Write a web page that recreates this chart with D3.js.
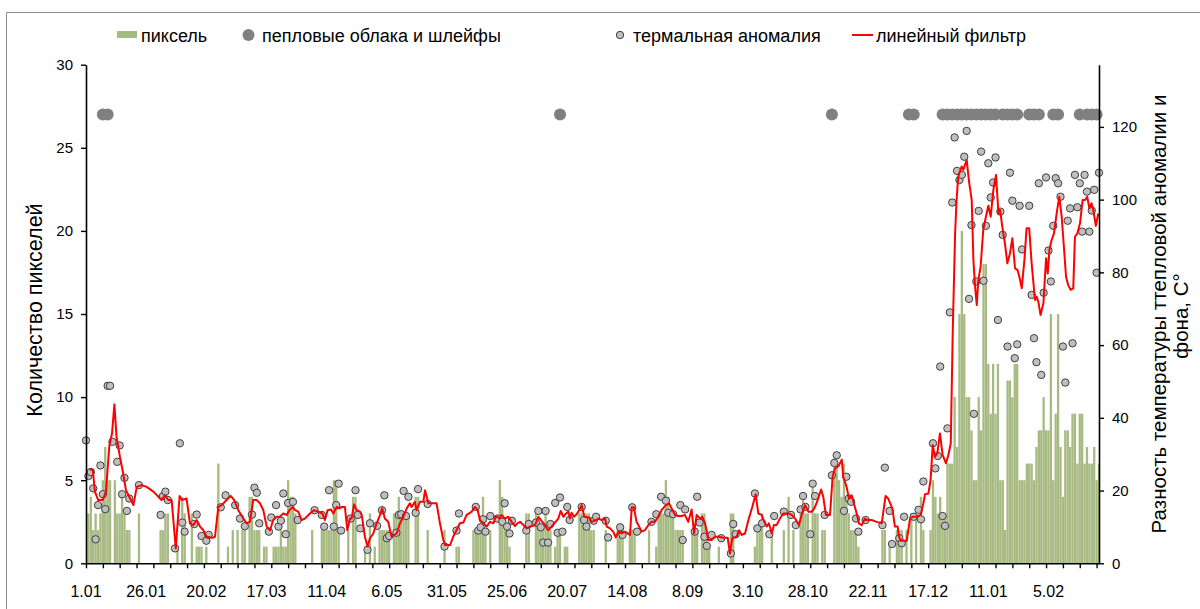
<!DOCTYPE html>
<html>
<head>
<meta charset="utf-8">
<script src="https://cdn.jsdelivr.net/npm/d3@7"></script>
<style>
  body { margin: 0; background: #fff; }
  svg { display: block; }
  text { font-family: "Liberation Sans", Arial, sans-serif; fill: #000; }
</style>
</head>
<body>
<svg width="1200" height="609"></svg>
<script>
// x axis: one category per day, labels every 25 days, tick marks every 7
const dateLabels = ["1.01", "26.01", "20.02", "17.03", "11.04", "6.05", "31.05", "25.06",
  "20.07", "14.08", "8.09", "3.10", "28.10", "22.11", "17.12", "11.01", "5.02"];
const nDays = 422;
const labelStep = 25;
const tickStep = 7;

// number of pixels per day [day, count] (days with zero left out)
const pixels = [
  [0,3],[1,3],[2,4],[3,2],[4,3],[5,2],[6,3],[7,5],[8,7],[9,5],[10,5],[12,5],[13,3],[14,3],
  [15,4],[16,3],[17,2],[18,2],[22,3],[31,2],[32,2],[33,3],[34,3],[38,1],[40,4],[41,3],[44,3],
  [46,1],[47,1],[48,1],[50,1],[55,6],[59,1],[61,2],[63,2],[65,2],[66,2],[68,4],[69,4],[70,2],
  [71,2],[72,2],[74,1],[75,1],[78,1],[79,1],[80,1],[81,2],[82,1],[83,1],[84,5],[85,4],[86,4],
  [87,3],[94,2],[98,2],[99,2],[100,2],[101,2],[102,2],[103,5],[104,5],[105,2],[109,2],[111,4],
  [112,4],[116,1],[118,3],[120,1],[122,2],[123,2],[124,2],[125,2],[126,2],[128,3],[129,3],
  [130,4],[131,3],[132,3],[133,3],[134,3],[137,4],[138,4],[142,2],[149,2],[154,1],[155,1],
  [161,2],[162,2],[163,2],[164,2],[165,4],[166,2],[168,2],[172,5],[173,4],[174,2],[175,2],
  [176,1],[183,3],[184,3],[187,3],[188,2],[189,2],[190,2],[191,3],[192,2],[193,2],[195,1],
  [196,2],[197,2],[199,1],[200,1],[205,3],[206,3],[207,3],[208,3],[209,3],[210,2],[211,2],
  [216,2],[221,2],[222,2],[223,2],[226,2],[227,2],[228,2],[234,2],[237,1],[238,3],[239,3],
  [240,3],[241,5],[242,4],[243,3],[244,3],[245,2],[246,2],[247,2],[248,2],[252,2],[253,2],
  [254,2],[256,3],[257,3],[258,2],[259,1],[263,1],[268,3],[269,3],[278,1],[279,2],[280,2],
  [281,3],[285,2],[290,2],[292,4],[294,2],[297,3],[298,4],[299,3],[300,3],[302,5],[303,3],
  [304,3],[306,2],[307,2],[311,6],[312,6],[313,5],[314,4],[315,6],[316,4],[317,3],[318,2],
  [319,2],[320,2],[321,1],[331,2],[332,2],[334,1],[337,2],[338,2],[339,2],[341,2],[343,3],
  [345,3],[347,4],[348,2],[351,2],[352,5],[353,4],[354,3],[355,4],[356,3],[357,3],[358,6],
  [359,6],[360,6],[361,10],[362,7],[363,15],[364,20],[365,15],[366,10],[367,10],[368,8],
  [369,5],[370,5],[371,10],[372,8],[373,18],[374,18],[375,12],[376,9],[377,12],[378,9],
  [379,12],[380,5],[381,5],[382,2],[383,11],[384,11],[385,10],[386,12],[387,12],[388,5],
  [389,5],[390,5],[391,6],[392,6],[393,6],[394,5],[395,7],[396,8],[397,8],[398,10],[399,8],
  [400,8],[401,15],[402,5],[403,9],[404,15],[405,7],[406,4],[407,8],[408,8],[409,7],[410,9],
  [411,9],[412,6],[413,9],[414,9],[415,6],[416,7],[417,6],[418,6],[419,7],[420,5],[421,6]
];

// days with ash clouds and plumes, drawn at level 27 of the left axis
const ashDays = [7, 9, 197, 310, 342, 344, 356, 358, 360, 362, 364, 366, 368, 370, 372, 374,
  376, 378, 381, 383, 385, 387, 392, 394, 396, 402, 404, 413, 416, 418, 420];
const ashLevel = 27;

// thermal anomaly, temperature difference in C [day, value] (right axis)
const anomaly = [
  [0,33.8],[1,24],[2,25.1],[3,20.6],[4,6.6],[5,16],[6,26.9],[7,19],[8,14.9],[9,48.8],[10,48.8],
  [11,33.4],[13,27.9],[14,32.4],[15,19],[16,23.5],[17,14.4],[18,17.8],[22,21.5],[31,13.3],
  [32,18.5],[33,19.7],[34,17.4],[37,4.1],[39,33],[40,11.2],[41,8.7],[45,10.8],[46,13.4],
  [48,7.5],[50,6.2],[51,7.8],[56,15.4],[58,18.7],[62,16],[64,12.3],[66,10.2],[69,13.4],
  [70,20.8],[71,19.4],[72,11],[76,8.7],[77,12.6],[79,16],[80,10.1],[81,11.7],[82,19.2],[83,8],
  [84,16.6],[86,16.9],[88,11.9],[95,14.6],[98,13.3],[99,10.1],[101,20.1],[103,10.1],[104,16],
  [105,21.9],[106,9],[110,12.3],[112,20.1],[113,13.3],[114,9.6],[117,3.7],[118,11],[121,10.3],
  [123,14.6],[124,18.7],[125,6.9],[126,7.5],[129,8.4],[130,13.3],[131,13.5],[132,19.9],[133,13],
  [134,18.3],[137,13.9],[138,20.4],[142,16.3],[149,4.6],[154,9],[155,13.7],[162,15.5],[163,9],
  [164,9.9],[165,12.1],[166,8.7],[168,13],[171,12.3],[173,11.4],[174,16.5],[175,10.1],[176,8.2],
  [177,11.7],[183,9],[184,10.8],[187,11.2],[188,14.4],[189,9.9],[190,5.7],[191,14.4],[192,5.7],
  [193,10.8],[195,16.6],[196,8.4],[197,18.1],[198,8.7],[200,15.5],[201,11.9],[206,15.5],
  [207,11.9],[208,10.1],[211,11.7],[212,12.8],[216,11.7],[217,7.1],[222,9.9],[223,7.8],
  [227,15.4],[229,8.7],[235,11.4],[237,13.5],[239,18.3],[241,17.2],[242,13.9],[244,13.5],
  [247,16],[248,6.4],[249,14.8],[253,8.7],[254,18.3],[255,11.2],[257,7.3],[258,4.8],[260,7.8],
  [264,6.9],[268,2.7],[269,10.8],[270,8],[278,19.2],[279,9.6],[281,11],[284,8],[286,13],
  [290,14.2],[293,13.3],[295,10.5],[297,14.8],[298,18.5],[299,15.5],[301,8],[302,21.9],
  [303,18.5],[307,13.3],[310,24.2],[311,27.6],[312,29.7],[315,14.4],[316,23.8],[317,17.8],
  [318,16.9],[320,12.3],[321,8.7],[324,11.9],[331,10.5],[332,26.3],[334,14.4],[335,5.3],
  [338,6.9],[339,5.5],[340,12.8],[344,12.8],[346,14.7],[347,12.1],[348,22.5],[352,33],
  [353,26.1],[354,29.5],[355,54.1],[356,13],[357,10.3],[358,37.1],[359,69],[360,99.2],
  [361,117.1],[362,107.9],[363,105.4],[364,106.8],[365,111.8],[366,118.9],[367,72.7],[368,93],
  [369,41.1],[370,77.5],[371,96.9],[372,113.2],[373,77.7],[374,92.8],[375,110],[376,100.6],
  [377,104.7],[378,111.6],[379,66.9],[380,96.7],[381,90.3],[383,59.6],[384,107.4],[385,99.7],
  [386,56.4],[387,60.2],[388,98.3],[389,86.3],[392,98.3],[393,73.8],[394,61.9],[395,55.3],
  [396,104.5],[397,51.8],[398,74.4],[399,106.1],[400,86],[401,77.5],[402,92.8],[403,105.9],
  [404,104.5],[405,100.8],[406,59.6],[407,49.7],[408,94.2],[409,97.6],[410,60.5],[411,106.8],
  [412,97.9],[413,104.5],[414,91.2],[415,106.8],[416,102.2],[417,91.2],[418,97],[419,102.7],
  [420,79.9],[421,107.4]
];

// linear filter line [day, value] (right axis)
const filter = [
  [1.5,25.8],[2.8,25.8],[3.7,19.7],[5.1,17.4],[6.9,17.4],[8.3,19.7],[9.7,32.4],[10.8,35.6],
  [11.8,43.7],[12.7,34.7],[14.1,29.3],[15.2,25.6],[16.6,20.1],[18,18.3],[19.7,16],[21.1,21],
  [23.1,21.5],[25.2,21],[28,19.7],[31.4,17.4],[32.8,18.7],[34.2,17.4],[35.6,17.4],[37.3,4.1],
  [38.9,18.5],[39.9,17.4],[41.8,17.8],[43.2,11],[44.6,10.5],[46,11.9],[47.4,10.1],[48.8,9.1],
  [50.1,7.3],[52.6,7],[53.6,7.3],[55,15.5],[56.4,16],[58.4,17.4],[60.2,18.5],[61.6,17.4],
  [63.3,14.6],[65.4,12.3],[66.8,11],[68.1,11.4],[69.5,17.4],[70.9,17.4],[72.3,16.5],
  [73.7,14.6],[75.1,10.1],[76.5,9.1],[77.8,11.9],[79.2,12.8],[80.6,12.8],[82,13.7],[83.4,13.3],
  [84.5,14.6],[86,15.5],[86.9,14.6],[88.2,14.2],[89.6,11.9],[91,12.3],[93.1,13.7],[94.7,14.6],
  [96.5,14.2],[98.2,13.7],[99.3,11.9],[100.4,14.6],[101.8,14.8],[102.8,13.7],[104.2,15.5],
  [105.3,15.1],[106.2,15.5],[107.6,15.5],[108.6,9.1],[109.7,12.3],[110.4,12.3],[111.4,16.2],
  [112.5,14.6],[113.9,14.2],[114.6,13.3],[115.9,7.3],[117,4.6],[118,6.9],[119.4,8.2],
  [120.8,11],[122.2,13.3],[123.1,15.1],[124.2,12.3],[125.6,11.4],[127,7.3],[129.1,8.2],
  [130.5,11],[131.9,12.8],[133.3,15.1],[134.6,16.5],[135.3,15.5],[136.7,16.9],[137.4,14.6],
  [138.8,16.9],[140.2,16.9],[140.9,20.1],[142.3,16.5],[144.3,16.5],[145.7,16.5],[147.1,11],
  [148.5,6.4],[149.2,5],[151.3,5],[152.6,7.3],[154,9.1],[155.4,11],[156.8,11.2],[158.2,13.3],
  [160.3,14.2],[161.6,15.5],[162.8,14.6],[163.7,11.9],[165.1,11],[166.5,10.1],[167.9,11.4],
  [169.3,11],[170.4,13],[171.8,12.3],[172.7,13.3],[174.1,12.3],[175.5,12.8],[176.9,11.4],
  [178.3,10.2],[179.3,11],[180.4,11.4],[181.8,10.5],[183.1,9.6],[184.5,10.1],[186.6,10.5],
  [188,12.8],[189.4,11.6],[190.8,10.5],[192.1,9.1],[193.5,10.1],[194.9,11.2],[196.3,12.3],
  [197.3,14.4],[198.4,12.8],[199.5,13.7],[200.5,14.2],[201.1,12.3],[201.8,13.9],[202.8,12.8],
  [203.9,13.5],[205,14.6],[206,16],[207.1,12.8],[209.2,12.6],[210.1,11.4],[211.5,11.7],
  [212.9,12.3],[214.3,11.9],[215.7,12.3],[216.4,10.1],[217.8,9.6],[219.1,8.7],[220.2,7.1],
  [221.2,8.7],[222.6,8.2],[224,8.7],[226.1,7.8],[226.8,15.4],[227.7,15.4],[228.8,11.4],
  [229.9,10.1],[230.9,8.7],[232.3,9.1],[233.7,10.5],[235.1,11.4],[236.5,11.4],[237.8,12.8],
  [239.2,14.6],[240.6,15.7],[242.3,16.5],[243.4,15.1],[244.8,13.3],[246.2,13],[247.5,13],
  [248.9,13.3],[250.3,11.4],[251.7,14.8],[252.7,8.2],[253.8,13.3],[255.2,12.3],[256.1,12.8],
  [257.3,11],[258.6,6.4],[260,6.4],[261.4,7.3],[262.8,7.3],[264.9,7],[266.7,7],[267.6,2.7],
  [268.6,6.9],[270.4,7.3],[271.4,9.1],[272.5,7.8],[273.9,8.2],[275.3,11.9],[276.9,15.5],
  [278.3,19],[279.4,13.7],[280.8,13.3],[281.9,11.4],[282.9,10.1],[283.8,11],[285,8.2],
  [285.9,10.5],[287,10.5],[288.4,12.3],[289.8,13.7],[291.9,13.7],[293.3,13.3],[294.7,12.3],
  [296.3,10.5],[297.4,13.3],[298.8,16],[300.2,14.2],[301.6,14.2],[302.7,15.1],[304.1,17.4],
  [305.5,20.3],[306.4,18.3],[307.5,13.3],[309.2,13.3],[310.3,23.8],[311.3,26.1],[312.7,26.7],
  [314.1,28.5],[314.7,23.8],[316.1,21],[317.1,17.8],[318.2,18.7],[319.3,16],[320.3,13.7],
  [321.2,11],[322.4,10.5],[323.7,12.3],[324.8,11.9],[326.5,11.9],[328.6,11.4],[330.7,11],
  [332.3,18.5],[333.4,17.8],[335.1,15.1],[336.2,10.1],[337.3,10.1],[337.9,7.3],[338.7,6.2],
  [341.1,6.2],[342.5,12.4],[343.8,12.8],[345.2,12.8],[346.9,13.3],[348,16.5],[348.7,19],
  [350.1,19.2],[351,22.9],[351.9,32.5],[352.8,29.3],[353.8,30.2],[354.9,35.7],[356,29.8],
  [357.4,27.5],[358.4,29.8],[359.4,33],[360.2,63.2],[361.2,90.7],[361.8,99.9],[362.5,106.3],
  [363.9,109.1],[364.6,108.2],[366,110.9],[367,104.9],[368.1,99.9],[368.8,83.4],[369.5,76.1],
  [370.2,71],[370.8,77.5],[371.8,81.6],[372.9,91.7],[374,95.3],[375,98.3],[376,95.3],
  [377.1,102.7],[378.2,106.8],[379.2,96.2],[379.9,97.2],[380.8,92.6],[381.9,88],[382.9,82.5],
  [384,85.2],[385,89.4],[386.1,81.1],[387.1,80.7],[387.9,78.8],[388.9,75.6],[390,83.4],
  [390.9,92.1],[392,92.1],[393,82.5],[394.4,72.4],[395.1,73.3],[395.8,71.9],[396.7,68.3],
  [397.9,71.5],[399,83.9],[399.7,79.7],[400.4,86.2],[401.3,88.9],[402.3,90.7],[403.4,96.2],
  [404.5,100.8],[405.5,95.3],[406.4,87.1],[407.3,78.8],[408.2,76.5],[409.2,75.2],[410.3,75.6],
  [411,89.8],[412,90.7],[413.1,93.5],[414.2,99.9],[415.2,99.9],[416.1,100.8],[417,97.6],
  [417.9,99],[418.6,97.2],[419.7,92.8],[420.7,96.2]
];

const plot = { left: 86, right: 1099, top: 64.7, bottom: 563.3 };

const svg = d3.select("svg");

// chart area frame
svg.append("path")
  .attr("d", "M6.5,609V12.5H1200")
  .attr("fill", "none")
  .attr("stroke", "#8c8c8c");

const x = d3.scaleLinear().domain([0, nDays - 1]).range([plot.left, plot.right]);
const yLeft = d3.scaleLinear().domain([0, 30]).range([plot.bottom, plot.top]);
const yRight = d3.scaleLinear().domain([0, 137.1]).range([plot.bottom, plot.top]);

svg.append("clipPath").attr("id", "clip")
  .append("rect")
  .attr("x", plot.left).attr("y", 0)
  .attr("width", plot.right - plot.left).attr("height", plot.bottom);

// bars
const barW = 2.3;
svg.append("g").attr("clip-path", "url(#clip)")
  .selectAll("rect")
  .data(pixels)
  .join("rect")
  .attr("x", d => x(d[0]) - barW / 2)
  .attr("width", barW)
  .attr("y", d => yLeft(d[1]))
  .attr("height", d => yLeft(0) - yLeft(d[1]))
  .attr("fill", "#a6ba82");

// ash clouds
svg.append("g")
  .selectAll("circle")
  .data(ashDays)
  .join("circle")
  .attr("cx", d => x(d))
  .attr("cy", yLeft(ashLevel))
  .attr("r", 6)
  .attr("fill", "#808080");

// thermal anomaly points
svg.append("g")
  .selectAll("circle")
  .data(anomaly)
  .join("circle")
  .attr("cx", d => x(d[0]))
  .attr("cy", d => yRight(d[1]))
  .attr("r", 3.7)
  .attr("fill", "#bfbfbf")
  .attr("stroke", "#3f3f3f")
  .attr("stroke-width", 1);

// filter line
const line = d3.line()
  .x(d => x(d[0]))
  .y(d => yRight(d[1]));

svg.append("path")
  .datum(filter)
  .attr("d", line)
  .attr("fill", "none")
  .attr("stroke", "#ff0000")
  .attr("stroke-width", 2)
  .attr("stroke-linejoin", "round");

// axes
function styleAxis(g) {
  g.selectAll(".domain").attr("stroke", "#000").attr("stroke-width", 1.6);
  g.selectAll(".tick line").attr("stroke", "#000").attr("stroke-width", 1.4);
  g.selectAll(".tick text").attr("font-size", 15).attr("font-family", null).attr("fill", "#000");
}

svg.append("g")
  .attr("transform", `translate(${plot.left},0)`)
  .call(d3.axisLeft(yLeft).tickValues([0, 5, 10, 15, 20, 25, 30])
    .tickSize(5).tickSizeOuter(0).tickPadding(8))
  .call(styleAxis);

svg.append("g")
  .attr("transform", `translate(${plot.right},0)`)
  .call(d3.axisRight(yRight).tickValues([0, 20, 40, 60, 80, 100, 120])
    .tickSize(5).tickSizeOuter(0).tickPadding(8))
  .call(styleAxis);

svg.append("g")
  .attr("transform", `translate(0,${plot.bottom})`)
  .call(d3.axisBottom(x).tickValues(d3.range(0, nDays, tickStep))
    .tickFormat("").tickSize(5).tickSizeOuter(0))
  .call(styleAxis);

svg.append("g")
  .selectAll("text")
  .data(dateLabels)
  .join("text")
  .attr("x", (d, i) => x(i * labelStep))
  .attr("y", 597)
  .attr("text-anchor", "middle")
  .attr("font-size", 16)
  .text(d => d);

// axis titles
svg.append("text")
  .attr("transform", "translate(41.5,310) rotate(-90)")
  .attr("text-anchor", "middle")
  .attr("font-size", 21.5)
  .text("Количество пикселей");

svg.append("text")
  .attr("transform", "translate(1166,314) rotate(-90)")
  .attr("text-anchor", "middle")
  .attr("font-size", 20.5)
  .text("Разность температуры ттепловой аномалии и");

svg.append("text")
  .attr("transform", "translate(1188,316) rotate(-90)")
  .attr("text-anchor", "middle")
  .attr("font-size", 20.5)
  .text("фона, С°");

// legend
const legend = svg.append("g").attr("font-size", 18);
legend.append("rect").attr("x", 117).attr("y", 31).attr("width", 20).attr("height", 7).attr("fill", "#a6ba82");
legend.append("text").attr("x", 141).attr("y", 41.5).text("пиксель");
legend.append("circle").attr("cx", 248.5).attr("cy", 35).attr("r", 6).attr("fill", "#808080");
legend.append("text").attr("x", 262).attr("y", 41.5).text("пепловые облака и шлейфы");
legend.append("circle").attr("cx", 620).attr("cy", 35).attr("r", 3.7)
  .attr("fill", "#bfbfbf").attr("stroke", "#3f3f3f");
legend.append("text").attr("x", 633).attr("y", 41.5).text("термальная аномалия");
legend.append("line").attr("x1", 852).attr("x2", 873).attr("y1", 35).attr("y2", 35)
  .attr("stroke", "#ff0000").attr("stroke-width", 2);
legend.append("text").attr("x", 876).attr("y", 41.5).text("линейный фильтр");
</script>
</body>
</html>
